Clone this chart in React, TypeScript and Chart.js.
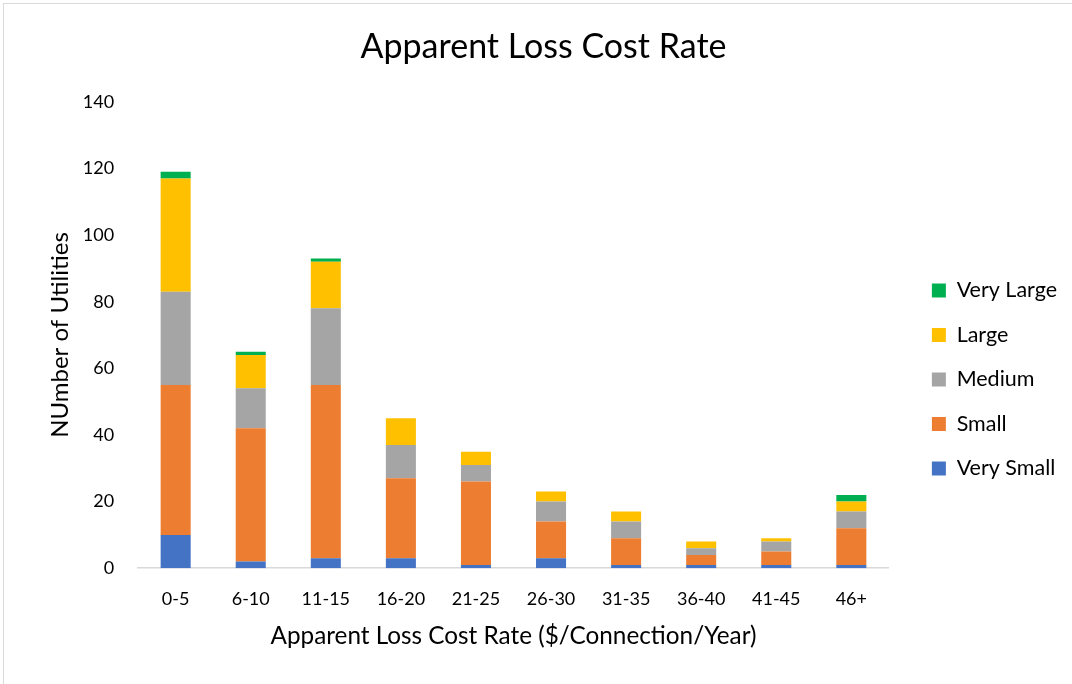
import React, { useEffect, useRef } from "react";
import { Chart, registerables } from "chart.js";

Chart.register(...registerables);

const categories = ["0-5", "6-10", "11-15", "16-20", "21-25", "26-30", "31-35", "36-40", "41-45", "46+"];
const verySmall = [10, 2, 3, 3, 1, 3, 1, 1, 1, 1];
const small = [45, 40, 52, 24, 25, 11, 8, 3, 4, 11];
const medium = [28, 12, 23, 10, 5, 6, 5, 2, 3, 5];
const large = [34, 10, 14, 8, 4, 3, 3, 2, 1, 3];
const veryLarge = [2, 1, 1, 0, 0, 0, 0, 0, 0, 2];

const FONT = "Lato, 'Open Sans', sans-serif";

export default function App() {
  const ref = useRef<HTMLCanvasElement>(null);
  useEffect(() => {
    if (!ref.current) return;
    const mk = (label: string, data: number[], color: string) => ({
      label,
      data,
      backgroundColor: color,
      borderColor: "#ffffff",
      borderWidth: 0,
      barPercentage: 0.4,
      categoryPercentage: 1,
    });
    const chart = new Chart(ref.current, {
      type: "bar",
      data: {
        labels: categories,
        datasets: [
          mk("Very Small", verySmall, "#4472C4"),
          mk("Small", small, "#ED7D31"),
          mk("Medium", medium, "#A5A5A5"),
          mk("Large", large, "#FFC000"),
          mk("Very Large", veryLarge, "#00B050"),
        ],
      },
      options: {
        animation: false,
        responsive: false,
        layout: { padding: { left: 20, right: 5, top: 20, bottom: 33 } },
        plugins: {
          tooltip: { enabled: false },
          title: {
            display: true,
            text: "Apparent Loss Cost Rate",
            color: "#000",
            font: { family: FONT, size: 34, weight: "normal" },
            padding: { top: 7, bottom: 34 },
          },
          legend: {
            position: "right",
            reverse: true,
            title: { display: true, text: " ", font: { size: 10 }, padding: { top: 38, bottom: 38 } },
            labels: {
              color: "#000",
              boxWidth: 14,
              boxHeight: 14,
              padding: 23,
              font: { family: FONT, size: 21.5 },
            },
          },
        },
        scales: {
          x: {
            stacked: true,
            grid: { display: false },
            border: { display: true, color: "#d9d9d9", width: 1.5 },
            ticks: { color: "#000", font: { family: FONT, size: 18 }, padding: 12 },
            title: {
              display: true,
              text: "Apparent Loss Cost Rate ($/Connection/Year)",
              color: "#000",
              font: { family: FONT, size: 24.3 },
              padding: { top: 0, bottom: 0 },
            },
          },
          y: {
            stacked: true,
            min: 0,
            max: 140,
            grid: { display: false },
            border: { display: false },
            ticks: { stepSize: 20, color: "#000", font: { family: FONT, size: 18 }, padding: 16 },
            title: {
              display: true,
              text: "NUmber of Utilities",
              color: "#000",
              font: { family: FONT, size: 24 },
              padding: { top: 26, bottom: 8 },
            },
            afterFit: (s: any) => {
              s.width -= 16;
            },
          },
          y2: {
            position: "right",
            display: true,
            grid: { display: false },
            border: { display: false },
            ticks: { display: false },
            afterFit: (s: any) => {
              s.width = 20;
            },
          },
        },
      } as any,
    });
    return () => chart.destroy();
  }, []);
  return (
    <div style={{ position: "absolute", left: 0, top: 0, width: 1072, height: 684, overflow: "hidden", background: "#fff" }}>
      <div style={{ position: "absolute", left: 3, top: 3, width: 1100, height: 720, border: "1px solid #d9d9d9", boxSizing: "border-box" }} />
      <canvas ref={ref} width={1072} height={684} style={{ position: "absolute", left: 0, top: 0 }} />
    </div>
  );
}
